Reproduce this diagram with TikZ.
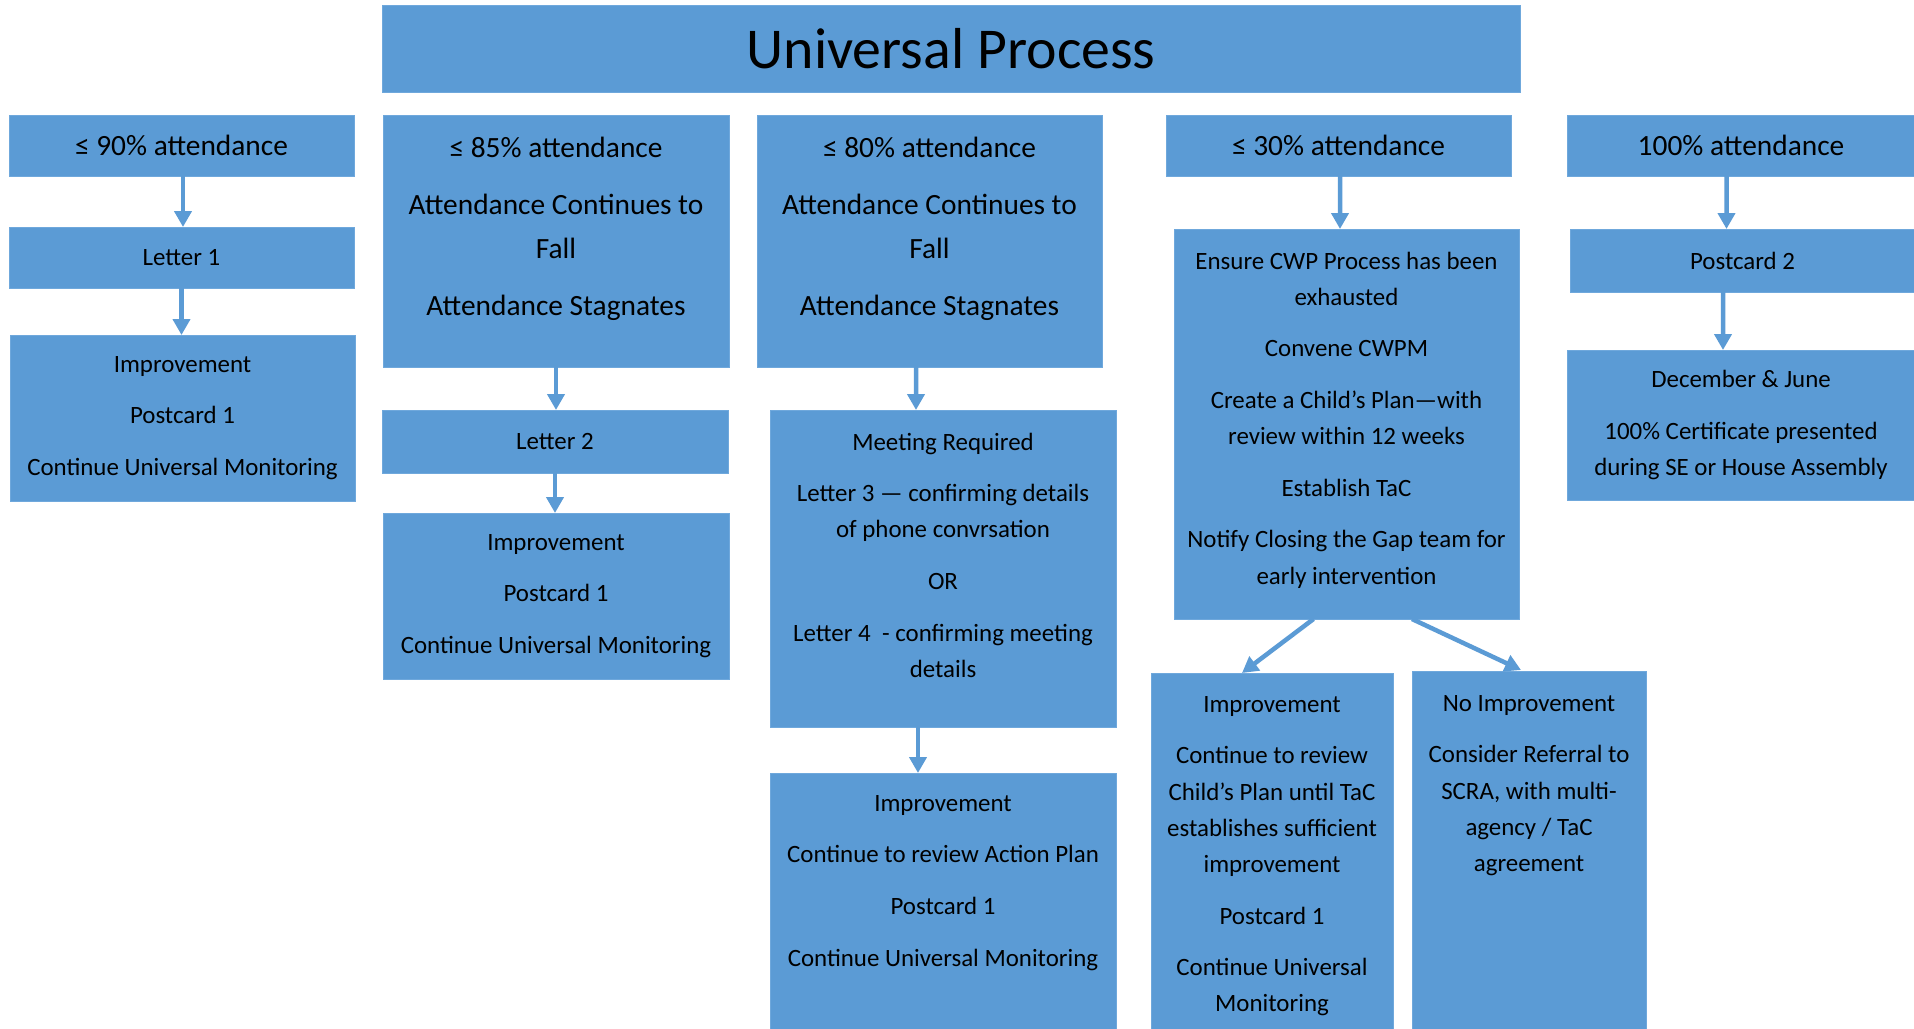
\documentclass[tikz,border=0pt]{standalone}
\usepackage{fontspec}
\setmainfont{Carlito}
\usetikzlibrary{arrows.meta}
\definecolor{boxblue}{HTML}{5B9BD5}
\definecolor{boxedge}{HTML}{6FA8DC}
\newcommand\mybox[7]{\node[box,#6,minimum width={(#4-#2)*1bp},minimum height={(#5-#3)*1bp}] (#1) at (#2,#3) {#7};}
\begin{document}
\begin{tikzpicture}[x=1bp,y=-1bp,
  box/.style={fill=boxblue,draw=boxedge,line width=1bp,inner sep=0pt,outer sep=0pt,anchor=north west,align=center},
  sm/.style={font=\fontsize{25}{36.3}\selectfont},
  lg/.style={font=\fontsize{29.5}{44}\selectfont},
  txt/.style={inner sep=0pt,align=center,anchor=north,execute at begin node={\rule{0pt}{0.8em}}},
  arr/.style={draw=boxblue,line width=4.5bp,-{Triangle[width=17bp,length=16bp]}}]
\useasboundingbox (0,0) rectangle (1914,1028);
\fill[white] (0,0) rectangle (1914,1028);

% title
\mybox{title}{382}{5}{1520}{92}{font=\fontsize{58}{70}\selectfont}{Universal Process}

% column 1
\mybox{a90}{9}{115}{354}{176}{lg}{≤ 90\% attendance}
\mybox{let1}{9}{227}{354}{288}{sm}{Letter 1}
\mybox{imp1}{10}{335}{355}{501}{sm}{Improvement\\[15bp]Postcard 1\\[15bp]Continue Universal Monitoring}

% column 2
\mybox{a85}{383}{115}{729}{367}{}{}
\node[txt,lg] (t85) at (556,136.5) {≤ 85\% attendance\\[13.5bp]Attendance Continues to\\Fall\\[13.5bp]Attendance Stagnates};
\mybox{let2}{382}{410}{728}{473}{sm}{Letter 2}
\mybox{imp2}{383}{513}{729}{679}{sm}{Improvement\\[15bp]Postcard 1\\[15bp]Continue Universal Monitoring}

% column 3
\mybox{a80}{757}{115}{1102}{367}{}{}
\node[txt,lg] (t80) at (929.5,136.5) {≤ 80\% attendance\\[13.5bp]Attendance Continues to\\Fall\\[13.5bp]Attendance Stagnates};
\mybox{meet}{770}{410}{1116}{727}{}{}
\node[txt,sm] (tmeet) at (943,432.5) {Meeting Required\\[15.5bp]Letter 3 — confirming details\\of phone convrsation\\[15.5bp]OR\\[15.5bp]Letter 4\ \ - confirming meeting\\details};
\mybox{imp3}{770}{773}{1116}{1035}{}{}
\node[txt,sm] (timp3) at (943,795) {Improvement\\[15.5bp]Continue to review Action Plan\\[15.5bp]Postcard 1\\[15.5bp]Continue Universal Monitoring};

% column 4
\mybox{a30}{1166}{115}{1511}{176}{lg}{≤ 30\% attendance}
\mybox{cwp}{1174}{229}{1519}{619}{}{}
\node[txt,sm] (tcwp) at (1346.5,251.5) {Ensure CWP Process has been\\exhausted\\[15.5bp]Convene CWPM\\[15.5bp]Create a Child’s Plan—with\\review within 12 weeks\\[15.5bp]Establish TaC\\[15.5bp]Notify Closing the Gap team for\\early intervention};
\mybox{imp4}{1151}{673}{1393}{1035}{}{}
\node[txt,sm] (timp4) at (1272,696) {Improvement\\[15.5bp]Continue to review\\Child’s Plan until TaC\\establishes sufficient\\improvement\\[15.5bp]Postcard 1\\[15.5bp]Continue Universal\\Monitoring};
\mybox{noimp}{1412}{671}{1646}{1035}{}{}
\node[txt,sm] (tnoimp) at (1529,695) {No Improvement\\[15.5bp]Consider Referral to\\SCRA, with multi-\\agency / TaC\\agreement};

% column 5
\mybox{a100}{1567}{115}{1915}{176}{lg}{100\% attendance}
\mybox{pc2}{1570}{229}{1915}{292}{sm}{Postcard 2}
\mybox{dec}{1567}{350}{1915}{500}{sm}{December \& June\\[15bp]100\% Certificate presented\\during SE or House Assembly}

% arrows
\draw[arr] ([xshift=1.5bp]a90.south) -- ([xshift=1.5bp]let1.north);
\draw[arr] (let1.south) -- (imp1.north -| let1.south);
\draw[arr] (a85.south) -- (let2.north -| a85.south);
\draw[arr] (let2.south) -- (imp2.north -| let2.south);
\draw[arr] ([xshift=-13.5bp]a80.south) -- ([xshift=-27bp]meet.north);
\draw[arr] ([xshift=-25bp]meet.south) -- ([xshift=-25bp]imp3.north);
\draw[arr] ([xshift=1.5bp]a30.south) -- ([xshift=-6.5bp]cwp.north);
\draw[arr] ([xshift=-33bp]cwp.south) -- ([xshift=-30bp]imp4.north);
\draw[arr] ([xshift=65.5bp]cwp.south) -- ([xshift=-8bp,yshift=1bp]noimp.north);
\draw[arr] ([xshift=-14.5bp]a100.south) -- ([xshift=-16bp]pc2.north);
\draw[arr] ([xshift=-19.5bp]pc2.south) -- ([xshift=-18bp]dec.north);
\end{tikzpicture}
\end{document}
